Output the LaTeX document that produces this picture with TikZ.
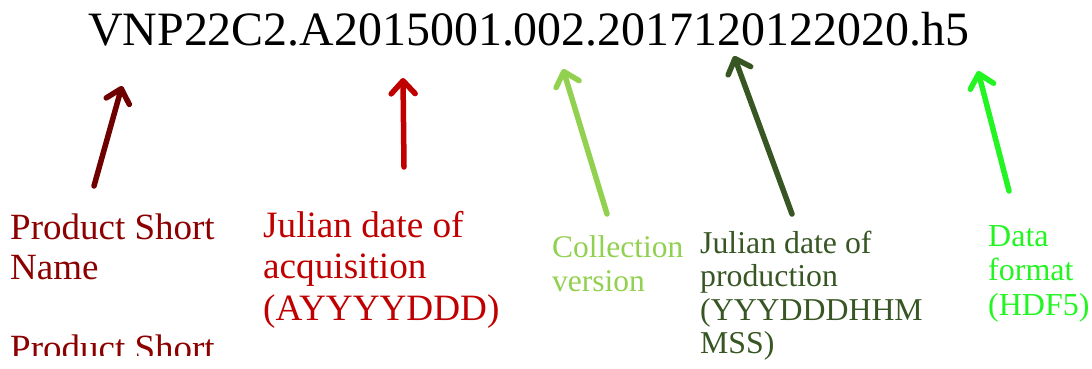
\documentclass[tikz,border=0pt]{standalone}
\usepackage{fontspec}
\setmainfont{Liberation Serif}
\usetikzlibrary{arrows.meta}
\definecolor{cDarkRed}{HTML}{6E0000}
\definecolor{cLblRed}{HTML}{8B0000}
\definecolor{cRed}{HTML}{C00000}
\definecolor{cLightGreen}{HTML}{92D050}
\definecolor{cDarkGreen}{HTML}{375623}
\definecolor{cBrightGreen}{HTML}{22F522}
\newcommand{\lines}[1]{\vtop{\lineskiplimit=-100pt\relax #1}}
\tikzset{
  lbl/.style={anchor=base west, inner sep=0pt},
  pointer/.style={line width=5.5pt, line cap=round, line join=round,
    -{Straight Barb[length=13pt, width=24pt, line cap=round, line join=round]}}
}
\begin{document}
\begin{tikzpicture}[x=1pt, y=-1pt]
\useasboundingbox (0,0) rectangle (1092,368);
\node[lbl, font=\fontsize{47.9}{52}\selectfont] (title) at (88,45) {VNP22C2.A2015001.002.2017120122020.h5};

\begin{scope}
\clip (0,0) rectangle (1092,355);
\node[lbl, text=cLblRed, font=\fontsize{37}{40.5}\selectfont] (psn) at (10,239)
  {\lines{\hbox{Product Short}\hbox{Name}\hbox{}\hbox{Product Short}}};
\end{scope}
\node[lbl, text=cRed, font=\fontsize{37.2}{41.5}\selectfont] (jda) at (263,237)
  {\lines{\hbox{Julian date of}\hbox{acquisition}\hbox{(AYYYYDDD)}}};
\node[lbl, text=cLightGreen, font=\fontsize{31.5}{34}\selectfont] (cv) at (552,257)
  {\lines{\hbox{Collection}\hbox{version}}};
\node[lbl, text=cDarkGreen, font=\fontsize{31.8}{33.5}\selectfont] (jdp) at (700,253)
  {\lines{\hbox{Julian date of}\hbox{production}\hbox{(YYYDDDHHM}\hbox{MSS)}}};
\node[lbl, text=cBrightGreen, font=\fontsize{32}{34.5}\selectfont] (df) at (988,246)
  {\lines{\hbox{Data}\hbox{format}\hbox{(HDF5)}}};

\coordinate (t1) at (94,186);  \coordinate (h1) at (122,86);
\coordinate (t2) at (404,167); \coordinate (h2) at (403,78);
\coordinate (t3) at (607,214); \coordinate (h3) at (563,69);
\coordinate (t4) at (792,214); \coordinate (h4) at (734,56);
\coordinate (t5) at (1009,191); \coordinate (h5) at (978,71);
\draw[pointer, cDarkRed] (t1) -- (h1);
\draw[pointer, cRed] (t2) -- (h2);
\draw[pointer, cLightGreen] (t3) -- (h3);
\draw[pointer, cDarkGreen] (t4) -- (h4);
\draw[pointer, cBrightGreen] (t5) -- (h5);
\end{tikzpicture}
\end{document}
